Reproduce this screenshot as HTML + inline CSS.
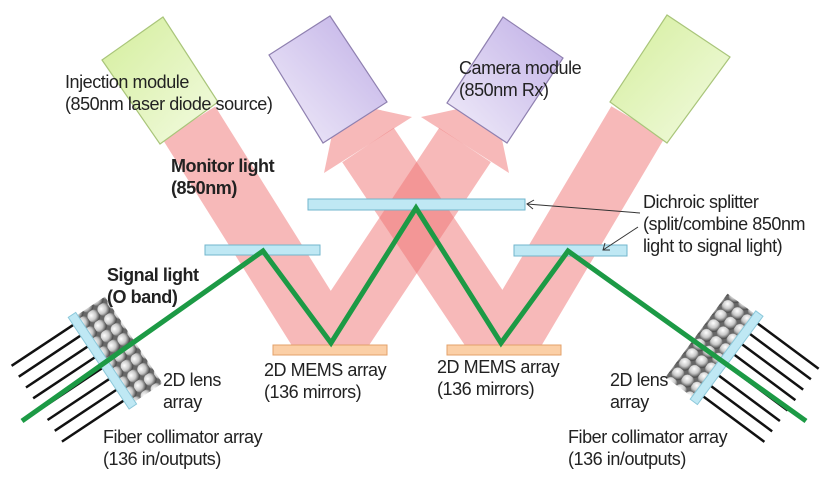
<!DOCTYPE html>
<html><head><meta charset="utf-8"><style>
html,body{margin:0;padding:0;background:#fff;}
svg{display:block;}
text{font-family:"Liberation Sans",Arial,sans-serif;font-size:18px;fill:#222;letter-spacing:-0.45px;}
.b{font-weight:bold;}
</style></head><body>
<svg width="835" height="489" viewBox="0 0 835 489" xmlns="http://www.w3.org/2000/svg">
<defs>
<clipPath id="cl"><rect x="0" y="0" width="835" height="346"/></clipPath>
<linearGradient id="gg" x1="0" y1="0" x2="1" y2="1"><stop offset="0" stop-color="#d4ee9c"/><stop offset="1" stop-color="#f3fbe2"/></linearGradient>
<linearGradient id="pg" x1="1" y1="0" x2="0" y2="1"><stop offset="0" stop-color="#bfaee6"/><stop offset="1" stop-color="#f2eefa"/></linearGradient>
<radialGradient id="lg" cx="0.35" cy="0.35" r="0.7"><stop offset="0" stop-color="#fff"/><stop offset="0.55" stop-color="#c8c8c8"/><stop offset="1" stop-color="#444"/></radialGradient>
<pattern id="lp" x="0" y="0" width="12" height="12" patternUnits="userSpaceOnUse"><rect width="12" height="12" fill="#666"/><circle cx="6" cy="6" r="6.3" fill="url(#lg)"/></pattern>
</defs>

<!-- beams -->
<g opacity="0.5" clip-path="url(#cl)">
<polyline points="189,123 330,348 465,145" fill="none" stroke="#f07474" stroke-width="62" stroke-linejoin="miter" stroke-miterlimit="10"/>
</g>
<polygon points="421,117 509,173 494,101" fill="#f07474" opacity="0.5"/>
<g opacity="0.5" clip-path="url(#cl)">
<polyline points="638,122 504,348 368,145" fill="none" stroke="#f07474" stroke-width="62" stroke-linejoin="miter" stroke-miterlimit="10"/>
</g>
<polygon points="324,173 412,117 339,101" fill="#f07474" opacity="0.5"/>

<!-- boxes -->
<polygon points="102,60 163,17 218,102 160,144" fill="url(#gg)" stroke="#a9c57a" stroke-width="1.2"/>
<polygon points="610,102 667,15 730,57 667,143" fill="url(#gg)" stroke="#a9c57a" stroke-width="1.2"/>
<polygon points="269,55 330,16 387,102 323,143" fill="url(#pg)" stroke="#8f80b0" stroke-width="1.2"/>
<polygon points="447,103 503,17 563,58 507,143" fill="url(#pg)" stroke="#8f80b0" stroke-width="1.2"/>

<!-- splitters -->
<rect x="205" y="245" width="115" height="10" fill="#bfe8f4" stroke="#72b6cc" stroke-width="1"/>
<rect x="308" y="199" width="217" height="11" fill="#bfe8f4" stroke="#72b6cc" stroke-width="1"/>
<rect x="514" y="245" width="113" height="11" fill="#bfe8f4" stroke="#72b6cc" stroke-width="1"/>
<!-- MEMS -->
<rect x="273" y="345" width="114" height="10" fill="#fbcfa6" stroke="#e3a06a" stroke-width="1"/>
<rect x="447" y="345" width="114" height="10" fill="#fbcfa6" stroke="#e3a06a" stroke-width="1"/>

<!-- arrays -->
<g transform="translate(102,361) rotate(-33.6)">
<g stroke="#111" stroke-width="2.5">
<line x1="-4" y1="-46" x2="-78" y2="-46"/><line x1="-4" y1="-33" x2="-78" y2="-33"/>
<line x1="-4" y1="-20" x2="-78" y2="-20"/><line x1="-4" y1="-7" x2="-78" y2="-7"/>
<line x1="-4" y1="6" x2="-78" y2="6"/><line x1="-4" y1="19" x2="-78" y2="19"/>
<line x1="-4" y1="32" x2="-78" y2="32"/><line x1="-4" y1="45" x2="-78" y2="45"/>
</g>
<rect x="4" y="-52" width="34" height="104" fill="url(#lp)"/>
<rect x="-4" y="-55" width="9" height="110" fill="#bfe8f4" stroke="#8cc8da" stroke-width="1"/>
</g>
<g transform="translate(727,358) rotate(36.6)">
<g stroke="#111" stroke-width="2.5">
<line x1="4" y1="-46" x2="80" y2="-46"/><line x1="4" y1="-33" x2="80" y2="-33"/>
<line x1="4" y1="-20" x2="80" y2="-20"/><line x1="4" y1="-7" x2="80" y2="-7"/>
<line x1="4" y1="6" x2="80" y2="6"/><line x1="4" y1="19" x2="80" y2="19"/>
<line x1="4" y1="32" x2="80" y2="32"/><line x1="4" y1="45" x2="80" y2="45"/>
</g>
<rect x="-38" y="-52" width="34" height="104" fill="url(#lp)"/>
<rect x="-5" y="-55" width="9" height="110" fill="#bfe8f4" stroke="#8cc8da" stroke-width="1"/>
</g>

<!-- green signal -->
<polyline points="22,421 263,251 331,343 416,208 501,343 568,251 806,421" fill="none" stroke="#1c9a45" stroke-width="5" stroke-linejoin="miter"/>

<!-- leader arrows -->
<g stroke="#333" stroke-width="1" fill="none">
<line x1="640" y1="213" x2="527" y2="204"/>
<polyline points="534,200 527,204 533,209"/>
<line x1="638" y1="227" x2="603" y2="250"/>
<polyline points="605,243 603,250 610,250"/>
</g>

<!-- text -->
<text x="65" y="88">Injection module</text>
<text x="65" y="110">(850nm laser diode source)</text>
<text x="459" y="74">Camera module</text>
<text x="459" y="96">(850nm Rx)</text>
<text class="b" x="171" y="172">Monitor light</text>
<text class="b" x="171" y="194">(850nm)</text>
<text x="643" y="208">Dichroic splitter</text>
<text x="643" y="230">(split/combine 850nm</text>
<text x="643" y="252">light to signal light)</text>
<text class="b" x="107" y="281">Signal light</text>
<text class="b" x="107" y="303">(O band)</text>
<text x="163" y="386">2D lens</text>
<text x="163" y="408">array</text>
<text x="103" y="443">Fiber collimator array</text>
<text x="103" y="465">(136 in/outputs)</text>
<text x="264" y="376">2D MEMS array</text>
<text x="264" y="398">(136 mirrors)</text>
<text x="437" y="373">2D MEMS array</text>
<text x="437" y="395">(136 mirrors)</text>
<text x="610" y="386">2D lens</text>
<text x="610" y="408">array</text>
<text x="568" y="443">Fiber collimator array</text>
<text x="568" y="465">(136 in/outputs)</text>
</svg>
</body></html>
